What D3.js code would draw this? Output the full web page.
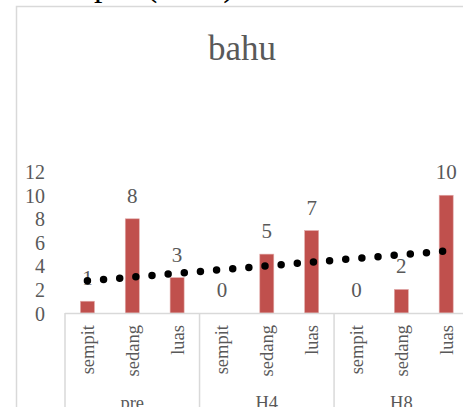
<!DOCTYPE html>
<html>
<head>
<meta charset="utf-8">
<script src="https://cdn.jsdelivr.net/npm/d3@7"></script>
<style>
  html, body { margin: 0; padding: 0; background: #fff; }
  svg { display: block; }
  text { font-family: "Liberation Serif", "Times New Roman", serif; }
</style>
</head>
<body>
<svg id="chart" width="463" height="407"></svg>
<script>
// Data: counts per width class (sempit / sedang / luas) at each time point
const groups = ["pre", "H4", "H8"];
const classes = ["sempit", "sedang", "luas"];
const values = [1, 8, 3, 0, 5, 7, 0, 2, 10];
const yTicks = [0, 2, 4, 6, 8, 10, 12];
const title = "bahu";
const heading = "pre (bahu)";

const svg = d3.select("#chart");
const grey = "#595959";
const lineGrey = "#d9d9d9";

// flat category list: one entry per bar
const cats = [];
groups.forEach(g => classes.forEach(c => cats.push({ group: g, cls: c })));
cats.forEach((d, i) => { d.value = values[i]; d.key = i; });

const plotLeft = 65, plotRight = 468.6, plotBottom = 313;
const x = d3.scaleBand().domain(cats.map(d => d.key)).range([plotLeft, plotRight]).padding(0);
const y = d3.scaleLinear().domain([0, 12]).range([plotBottom, 171.7]);

// heading text above the chart frame (partly cut off by the top edge)
svg.append("text")
  .attr("x", 94).attr("y", -4)
  .attr("font-size", 34).attr("fill", "#000")
  .text(heading);

// chart frame
svg.append("rect")
  .attr("x", 16.5).attr("y", 6.5)
  .attr("width", 500).attr("height", 500)
  .attr("fill", "none").attr("stroke", lineGrey).attr("stroke-width", 1.5);

// title
svg.append("text")
  .attr("x", 242).attr("y", 60)
  .attr("text-anchor", "middle")
  .attr("font-size", 35).attr("fill", grey)
  .text(title);

// value axis labels (no axis line)
const yAxis = d3.axisLeft(y).tickValues(yTicks).tickSize(0).tickPadding(0);
const yG = svg.append("g").attr("transform", "translate(45,0)").call(yAxis);
yG.select(".domain").remove();
yG.selectAll("text")
  .attr("font-family", "Liberation Serif, serif")
  .attr("font-size", 20).attr("fill", grey)
  .attr("dy", 7).attr("x", 0);

// bars
const barW = 14;
svg.append("g").selectAll("rect").data(cats).join("rect")
  .attr("x", d => x(d.key) + x.bandwidth() / 2 - barW / 2)
  .attr("y", d => y(d.value))
  .attr("width", barW)
  .attr("height", d => y(0) - y(d.value))
  .attr("fill", "#c0504d")
  .attr("stroke", "#e2aaa9").attr("stroke-width", 0.6);

// data labels
svg.append("g").selectAll("text").data(cats).join("text")
  .attr("x", d => x(d.key) + x.bandwidth() / 2)
  .attr("y", d => y(d.value) - 16)
  .attr("text-anchor", "middle")
  .attr("font-size", 21).attr("fill", grey)
  .text(d => d.value);

// linear trendline over the bar values (least squares)
const n = values.length;
const xs = d3.range(1, n + 1);
const mx = d3.mean(xs), my = d3.mean(values);
const slope = d3.sum(xs, (xi, i) => (xi - mx) * (values[i] - my)) / d3.sum(xs, xi => (xi - mx) ** 2);
const icpt = my - slope * mx;
const trend = [1, n].map(t => ({ key: t - 1, v: icpt + slope * t }));
svg.append("path")
  .attr("d", d3.line().x(d => x(d.key) + x.bandwidth() / 2).y(d => y(d.v))(trend))
  .attr("fill", "none").attr("stroke", "#000")
  .attr("stroke-width", 7.5)
  .attr("stroke-linecap", "round")
  .attr("stroke-dasharray", "0 16.2");

// category axis line and group separators
svg.append("line")
  .attr("x1", plotLeft).attr("x2", 480)
  .attr("y1", plotBottom + 0.5).attr("y2", plotBottom + 0.5)
  .attr("stroke", lineGrey).attr("stroke-width", 1.5);
groups.forEach((g, gi) => {
  const xb = x(gi * classes.length);
  svg.append("line")
    .attr("x1", xb).attr("x2", xb)
    .attr("y1", plotBottom).attr("y2", 420)
    .attr("stroke", lineGrey).attr("stroke-width", 1.5);
});
svg.append("line")
  .attr("x1", plotRight).attr("x2", plotRight)
  .attr("y1", plotBottom).attr("y2", 420)
  .attr("stroke", lineGrey).attr("stroke-width", 1.5);

// rotated class labels
svg.append("g").selectAll("text").data(cats).join("text")
  .attr("transform", d => `translate(${x(d.key) + x.bandwidth() / 2},325) rotate(-90)`)
  .attr("text-anchor", "end")
  .attr("dy", "0.35em")
  .attr("font-size", 18.5).attr("fill", grey)
  .text(d => d.cls);

// group labels
svg.append("g").selectAll("text").data(groups).join("text")
  .attr("x", (g, gi) => x(gi * classes.length) + x.bandwidth() * classes.length / 2)
  .attr("y", 409)
  .attr("text-anchor", "middle")
  .attr("font-size", 18.5).attr("fill", grey)
  .text(g => g);
</script>
</body>
</html>
